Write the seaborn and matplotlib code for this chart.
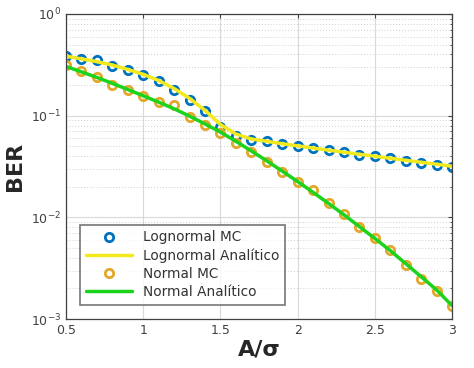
import numpy as np
import pandas as pd
import seaborn as sns
import matplotlib.pyplot as plt
from matplotlib.ticker import LogLocator, FixedLocator, NullFormatter

# A/sigma = 0.5 : 0.1 : 3
a_sigma = [0.5, 0.6, 0.7, 0.8, 0.9, 1.0, 1.1, 1.2, 1.3, 1.4, 1.5, 1.6, 1.7,
           1.8, 1.9, 2.0, 2.1, 2.2, 2.3, 2.4, 2.5, 2.6, 2.7, 2.8, 2.9, 3.0]

lognormal_mc = [0.39, 0.36, 0.35, 0.31, 0.28, 0.25, 0.22, 0.18, 0.144, 0.11,
                0.078, 0.063, 0.058, 0.056, 0.053, 0.050, 0.048, 0.0457,
                0.0435, 0.0415, 0.040, 0.038, 0.036, 0.0345, 0.033, 0.031]
lognormal_an = [0.385, 0.362, 0.34, 0.315, 0.285, 0.255, 0.222, 0.185, 0.148,
                0.113, 0.082, 0.066, 0.059, 0.056, 0.053, 0.0505, 0.048,
                0.0458, 0.0437, 0.0417, 0.0399, 0.0381, 0.0364, 0.0348,
                0.0333, 0.0318]
normal_mc = [0.316, 0.276, 0.24, 0.20, 0.18, 0.155, 0.137, 0.126, 0.096,
             0.081, 0.068, 0.054, 0.0435, 0.035, 0.028, 0.0225, 0.0184,
             0.014, 0.0107, 0.0081, 0.0062, 0.0048, 0.0034, 0.0025, 0.0019,
             0.00134]
normal_an = [0.305, 0.27, 0.238, 0.208, 0.181, 0.157, 0.136, 0.117, 0.099,
             0.083, 0.069, 0.056, 0.045, 0.036, 0.0285, 0.0225, 0.0176,
             0.0137, 0.0106, 0.0081, 0.0062, 0.0047, 0.0035, 0.0026, 0.00193,
             0.00135]

df = pd.DataFrame({"x": a_sigma, "logmc": lognormal_mc, "logan": lognormal_an,
                   "normc": normal_mc, "noran": normal_an})

sns.set_style("white")
plt.rcParams['font.family'] = ['DejaVu Sans']

fig = plt.figure(figsize=(4.74, 3.68), dpi=100)
ax = fig.add_axes([0.139, 0.133, 0.815, 0.829])

sns.lineplot(data=df, x="x", y="logmc", ax=ax, marker="o", linestyle="",
             markerfacecolor="none", markeredgecolor="#0072BD", color="#0072BD",
             markersize=6, markeredgewidth=2.0, label="Lognormal MC")
sns.lineplot(data=df, x="x", y="logan", ax=ax, color="#F2EA1C", linewidth=2.5,
             label="Lognormal Analítico")
sns.lineplot(data=df, x="x", y="normc", ax=ax, marker="o", linestyle="",
             markerfacecolor="none", markeredgecolor="#E3A82B", color="#E3A82B",
             markersize=6, markeredgewidth=2.0, label="Normal MC")
sns.lineplot(data=df, x="x", y="noran", ax=ax, color="#1BD31B", linewidth=2.5,
             label="Normal Analítico")

ax.set_yscale("log")
ax.set_xlim(0.5, 3)
ax.set_ylim(1e-3, 1)
ax.xaxis.set_major_locator(FixedLocator([0.5, 1, 1.5, 2, 2.5, 3]))
ax.set_xticklabels(["0.5", "1", "1.5", "2", "2.5", "3"])
ax.yaxis.set_major_locator(LogLocator(base=10, numticks=10))
ax.yaxis.set_minor_locator(LogLocator(base=10, subs=np.arange(2, 10), numticks=10))
ax.yaxis.set_minor_formatter(NullFormatter())

ax.grid(which="major", color="#d9d9d9", linewidth=0.8, linestyle="-")
ax.grid(which="minor", axis="y", color="#d0d0d0", linewidth=0.7, linestyle=(0, (1, 2)))
ax.tick_params(which="both", direction="in", top=True, right=True,
               colors="#404040", labelsize=9, length=3)
ax.tick_params(which="minor", length=1.5)
for s in ax.spines.values():
    s.set_color("#404040")
    s.set_linewidth(0.9)

ax.set_xlabel("A/σ", fontsize=16, fontweight="bold", color="#262626", labelpad=2)
ax.set_ylabel("BER", fontsize=16, fontweight="bold", color="#262626", labelpad=4)

leg = ax.legend(loc="lower left", bbox_to_anchor=(0.02, 0.025), fontsize=9.8,
                frameon=True, fancybox=False, edgecolor="#555555",
                handlelength=3.4, borderpad=0.4, labelspacing=0.3)
leg.get_frame().set_linewidth(1.2)
for t in leg.get_texts():
    t.set_color("#333333")

fig.savefig("out.png", dpi=100)
